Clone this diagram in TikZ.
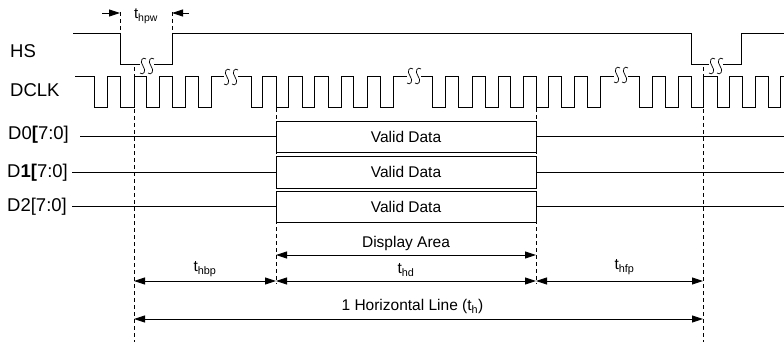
\documentclass[tikz,border=0pt]{standalone}
\usepackage{fontspec}
\setmainfont{Liberation Sans}
\usetikzlibrary{arrows.meta,calc}

% break mark drawn over a waveform
\newcommand{\ssmark}[1]{%
  \fill[white] ($(#1)+(-7,-2)$) rectangle ($(#1)+(7,2)$);
  \foreach \dx in {-4,4}
    \draw[line width=0.7pt, shift={(#1)}] (\dx+3,-7) .. controls (\dx,-10) and (\dx-4,-5) .. (\dx,0)
      .. controls (\dx+4,5) and (\dx,10) .. (\dx-3,7);
}

\begin{document}
\begin{tikzpicture}[x=1pt, y=-1pt,
    sig/.style={line width=0.9pt},
    guide/.style={line width=0.7pt, dash pattern=on 4pt off 3pt},
    dim/.style={line width=0.9pt, {Triangle[length=11pt,width=7pt]}-{Triangle[length=11pt,width=7pt]}},
    databox/.style={draw, line width=0.9pt, minimum width=260pt, inner sep=0pt, font=\fontsize{15.5}{18}\selectfont},
    lbl/.style={anchor=west, inner sep=0pt, font=\fontsize{18.5}{21}\selectfont},
    txt/.style={inner sep=1pt, font=\fontsize{15.5}{18}\selectfont}]
    \useasboundingbox (0,0) rectangle (784,345);

    % signal names
    \node[lbl] (hs)   at (10,51)  {HS};
    \node[lbl] (dclk) at (10,90)  {DCLK};
    \node[lbl] (d0)   at (8,135)  {D0\textbf{[}7:0]};
    \node[lbl] (d1)   at (7,173)  {D\textbf{1[}7:0]};
    \node[lbl] (d2)   at (7,207)  {D2[7:0]};

    % guide lines
    \draw[guide] (120,12) -- (120,33);
    \draw[guide] (172,12) -- (172,33);
    \draw[guide] (134,67) -- (134,342);
    \draw[guide] (276,108) -- (276,284);
    \draw[guide] (536,108) -- (536,284);
    \draw[guide] (703,67) -- (703,342);

    % HS
    \draw[sig] (73,33) -| (120,64) -| (172,33) -| (691,64) -| (741,33) -- (784,33);

    % DCLK
    \draw[sig] (75,76) -| (94,107) -| (107,76) -| (120,107) -| (134,76) -| (146,107) -| (159,76)
      -| (172,107) -| (185,76) -| (198,107) -| (211,76) -| (251,107) -| (262,76) -| (276,107)
      -| (288,76) -| (302,107) -| (314,76) -| (328,107) -| (341,76) -| (353,107) -| (367,76)
      -| (380,107) -| (393,76) -| (432,107) -| (445,76) -| (458,107) -| (472,76) -| (485,107)
      -| (498,76) -| (510,107) -| (523,76) -| (536,107) -| (548,76) -| (561,107) -| (574,76)
      -| (587,107) -| (600,76) -| (639,107) -| (652,76) -| (665,107) -| (678,76) -| (691,107)
      -| (703,76) -| (717,107) -| (729,76) -| (742,107) -| (755,76) -| (768,107) -| (780,76) -- (784,76);

    % breaks
    \coordinate (b0) at (147,66);
    \coordinate (b1) at (231,77);
    \coordinate (b2) at (414,76);
    \coordinate (b3) at (621,75);
    \coordinate (b4) at (716,66);
    \ssmark{b0} \ssmark{b1} \ssmark{b2} \ssmark{b3} \ssmark{b4}

    % data
    \node[databox, minimum height=31pt] (v0) at (406,136.5) {Valid Data};
    \node[databox, minimum height=32pt] (v1) at (406,172)   {Valid Data};
    \node[databox, minimum height=31pt] (v2) at (406,206.5) {Valid Data};
    \coordinate (d0s) at (80,136.5);  \coordinate (d0e) at (784,136.5);
    \coordinate (d1s) at (72,172);    \coordinate (d1e) at (784,172);
    \coordinate (d2s) at (72,206.5);  \coordinate (d2e) at (784,206.5);
    \draw[sig] (d0s) -- (v0.west);  \draw[sig] (v0.east) -- (d0e);
    \draw[sig] (d1s) -- (v1.west);  \draw[sig] (v1.east) -- (d1e);
    \draw[sig] (d2s) -- (v2.west);  \draw[sig] (v2.east) -- (d2e);

    % pulse width
    \coordinate (w0) at (102,13);  \coordinate (w1) at (120,13);
    \coordinate (w2) at (189,13);  \coordinate (w3) at (172,13);
    \draw[line width=0.9pt, -{Triangle[length=11pt,width=7pt]}] (w0) -- (w1);
    \draw[line width=0.9pt, -{Triangle[length=11pt,width=7pt]}] (w2) -- (w3);
    \node[txt, font=\fontsize{15}{17}\selectfont] (thpw) at (146,16) {t\textsubscript{hpw}};

    % timing
    \coordinate (a1) at (276,255);  \coordinate (a2) at (536,255);
    \coordinate (p0) at (134,281);  \coordinate (p1) at (276,281);
    \coordinate (p2) at (536,281);  \coordinate (p3) at (703,281);
    \coordinate (h0) at (134,319);  \coordinate (h1) at (703,319);
    \draw[dim] (a1) -- node[txt, above=3pt] (disp) {Display Area} (a2);
    \draw[dim] (p0) -- node[txt, above=3pt] (thbp) {t\textsubscript{hbp}} (p1);
    \draw[dim] (p1) -- node[txt, above=3pt] (thd) {t\textsubscript{hd}} (p2);
    \draw[dim] (p2) -- node[txt, above=5pt, xshift=5pt] (thfp) {t\textsubscript{hfp}} (p3);
    \draw[dim] (h0) -- node[txt, above=4pt, xshift=-6pt] (hline) {1 Horizontal Line (t\textsubscript{h})} (h1);
\end{tikzpicture}
\end{document}
